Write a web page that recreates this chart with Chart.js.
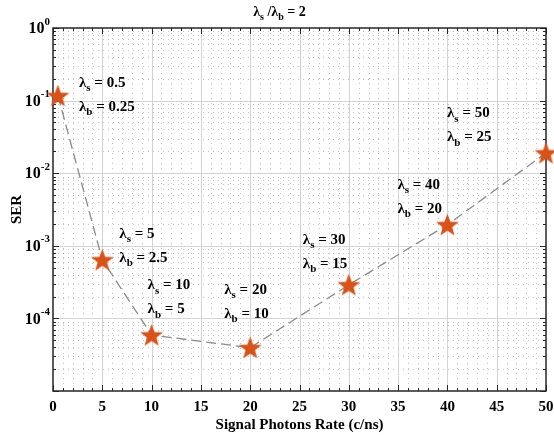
<!DOCTYPE html>
<html lang="en">
<head>
  <meta charset="UTF-8" />
  <title>SER vs Signal Photons Rate</title>
  <script src="https://cdn.jsdelivr.net/npm/chart.js"></script>
  <style>
    html, body { margin: 0; padding: 0; background: #fff; }
  </style>
</head>
<body>
  <canvas id="chart" width="554" height="437"></canvas>

  <script>
    // data
    const rates = [0.5, 5, 10, 20, 30, 40, 50];
    const ser = [0.117, 6.4e-4, 5.9e-5, 3.95e-5, 2.9e-4, 1.95e-3, 1.9e-2];
    const lambdaS = ['0.5', '5', '10', '20', '30', '40', '50'];
    const lambdaB = ['0.25', '2.5', '5', '10', '15', '20', '25'];
    const xTickValues = [0, 5, 10, 15, 20, 25, 30, 35, 40, 45, 50];
    const yExponents = [0, -1, -2, -3, -4];

    // where each λ label sits, relative to its star (px)
    const labelOffsets = [[21, -13], [17, -26], [-4, -50], [-26, -58], [-46, -45], [-50, -40], [-99, -40]];

    const FONT = '"Liberation Serif", "Times New Roman", serif';
    const ORANGE = '#D95319';

    // filled five-point star used as marker
    function makeStar(size, color) {
      const c = document.createElement('canvas');
      c.width = size; c.height = size;
      const g = c.getContext('2d');
      const cx = size / 2, cy = size / 2 + 1;
      const ro = size / 2 - 0.5, ri = ro * 0.42;
      g.beginPath();
      for (let i = 0; i < 10; i++) {
        const r = i % 2 ? ri : ro;
        const a = -Math.PI / 2 + i * Math.PI / 5;
        g.lineTo(cx + r * Math.cos(a), cy + r * Math.sin(a));
      }
      g.closePath();
      g.fillStyle = color;
      g.fill();
      return c;
    }
    const star = makeStar(25, ORANGE);

    // text with sub/superscripts: parts = [[text, mode]], mode '' | 'sub' | 'sup'
    function richWidth(ctx, parts, size) {
      let w = 0;
      parts.forEach(([t, m]) => {
        ctx.font = 'bold ' + (m ? Math.round(size * 0.7) : size) + 'px ' + FONT;
        w += ctx.measureText(t).width;
      });
      return w;
    }
    function drawRich(ctx, x, y, parts, size) {
      ctx.textBaseline = 'middle';
      ctx.textAlign = 'left';
      ctx.fillStyle = '#000';
      parts.forEach(([t, m]) => {
        const s = m ? Math.round(size * 0.7) : size;
        ctx.font = 'bold ' + s + 'px ' + FONT;
        const dy = m === 'sub' ? size * 0.38 : m === 'sup' ? -size * 0.45 : 0;
        ctx.fillText(t, x, y + dy);
        x += ctx.measureText(t).width;
      });
    }

    const matlabAxes = {
      id: 'matlabAxes',
      beforeDatasetsDraw(chart) {
        const { ctx, chartArea: a, scales: { x, y } } = chart;
        ctx.save();
        ctx.lineWidth = 1;

        // minor grid, dotted
        ctx.strokeStyle = 'rgba(0,0,0,0.24)';
        ctx.setLineDash([1, 4]);
        ctx.beginPath();
        for (let v = 1; v < 50; v++) {
          if (v % 5 === 0) continue;
          const px = Math.round(x.getPixelForValue(v)) + 0.5;
          ctx.moveTo(px, a.top); ctx.lineTo(px, a.bottom);
        }
        for (let d = -5; d < 0; d++) {
          for (let m = 2; m <= 9; m++) {
            const py = Math.round(y.getPixelForValue(m * Math.pow(10, d))) + 0.5;
            ctx.moveTo(a.left, py); ctx.lineTo(a.right, py);
          }
        }
        ctx.stroke();

        // major grid, solid
        ctx.setLineDash([]);
        ctx.strokeStyle = '#d3d3d3';
        ctx.beginPath();
        xTickValues.slice(1, -1).forEach(v => {
          const px = Math.round(x.getPixelForValue(v)) + 0.5;
          ctx.moveTo(px, a.top); ctx.lineTo(px, a.bottom);
        });
        yExponents.slice(1).forEach(e => {
          const py = Math.round(y.getPixelForValue(Math.pow(10, e))) + 0.5;
          ctx.moveTo(a.left, py); ctx.lineTo(a.right, py);
        });
        ctx.stroke();

        // tick marks on all four sides
        ctx.strokeStyle = '#262626';
        ctx.beginPath();
        for (let v = 0; v <= 50; v++) {
          const len = v % 5 === 0 ? 6 : 3;
          const px = Math.round(x.getPixelForValue(v)) + 0.5;
          ctx.moveTo(px, a.bottom); ctx.lineTo(px, a.bottom - len);
          ctx.moveTo(px, a.top); ctx.lineTo(px, a.top + len);
        }
        for (let d = -5; d <= 0; d++) {
          for (let m = 1; m <= 9; m++) {
            const val = m * Math.pow(10, d);
            if (val > 1) break;
            const len = m === 1 ? 6 : 3;
            const py = Math.round(y.getPixelForValue(val)) + 0.5;
            ctx.moveTo(a.left, py); ctx.lineTo(a.left + len, py);
            ctx.moveTo(a.right, py); ctx.lineTo(a.right - len, py);
          }
        }
        ctx.stroke();

        // box
        ctx.lineWidth = 1.5;
        ctx.strokeRect(a.left, a.top, a.right - a.left, a.bottom - a.top);

        // y tick labels 10^n
        yExponents.forEach(e => {
          const py = y.getPixelForValue(Math.pow(10, e));
          const parts = [['10', ''], [String(e), 'sup']];
          const w = richWidth(ctx, parts, 16);
          drawRich(ctx, a.left - 3 - w, py + 1, parts, 16);
        });

        // title
        const tParts = [['λ', ''], ['s', 'sub'], [' /λ', ''], ['b', 'sub'], [' = 2', '']];
        const tw = richWidth(ctx, tParts, 14);
        drawRich(ctx, (a.left + a.right) / 2 - 20 - tw / 2, 12, tParts, 14);
        ctx.restore();
      },
      afterDraw(chart) {
        const { ctx, scales: { x, y } } = chart;
        ctx.save();
        rates.forEach((r, i) => {
          const px = x.getPixelForValue(r) + labelOffsets[i][0];
          const py = y.getPixelForValue(ser[i]) + labelOffsets[i][1];
          drawRich(ctx, px, py, [['λ', ''], ['s', 'sub'], [' = ' + lambdaS[i], '']], 15);
          drawRich(ctx, px, py + 24, [['λ', ''], ['b', 'sub'], [' = ' + lambdaB[i], '']], 15);
        });
        ctx.restore();
      }
    };

    const ctx = document.getElementById('chart').getContext('2d');
    const chart = new Chart(ctx, {
      type: 'scatter',
      data: {
        datasets: [{
          data: rates.map((r, i) => ({ x: r, y: ser[i] })),
          showLine: true,
          borderColor: '#8a8a8a',
          borderWidth: 1.3,
          borderDash: [10, 5],
          pointStyle: star,
          pointRadius: 12,
          clip: false,
        }],
      },
      options: {
        responsive: false,
        animation: false,
        devicePixelRatio: 1,
        layout: { autoPadding: false, padding: { left: 0, right: 8, top: 28, bottom: 0 } },
        plugins: { legend: { display: false }, tooltip: { enabled: false } },
        scales: {
          x: {
            type: 'linear',
            min: 0,
            max: 50,
            afterBuildTicks: s => { s.ticks = xTickValues.map(v => ({ value: v })); },
            afterFit: s => { s.height = 46; s.paddingRight = 0; s.paddingLeft = 0; },
            grid: { display: false, drawTicks: false },
            border: { display: false },
            ticks: { color: '#000', padding: 7, font: { family: FONT, size: 15, weight: 'bold' } },
            title: {
              display: true,
              text: 'Signal Photons Rate (c/ns)',
              color: '#000',
              padding: { top: 0, bottom: 3 },
              font: { family: FONT, size: 15, weight: 'bold' },
            },
          },
          y: {
            type: 'logarithmic',
            min: 1e-5,
            max: 1,
            afterFit: s => { s.width = 53; },
            grid: { display: false, drawTicks: false },
            border: { display: false },
            ticks: { display: false },
            title: {
              display: true,
              text: 'SER',
              color: '#000',
              padding: { top: 8, bottom: 0 },
              font: { family: FONT, size: 15, weight: 'bold' },
            },
          },
        },
      },
      plugins: [matlabAxes],
    });
  </script>
</body>
</html>
